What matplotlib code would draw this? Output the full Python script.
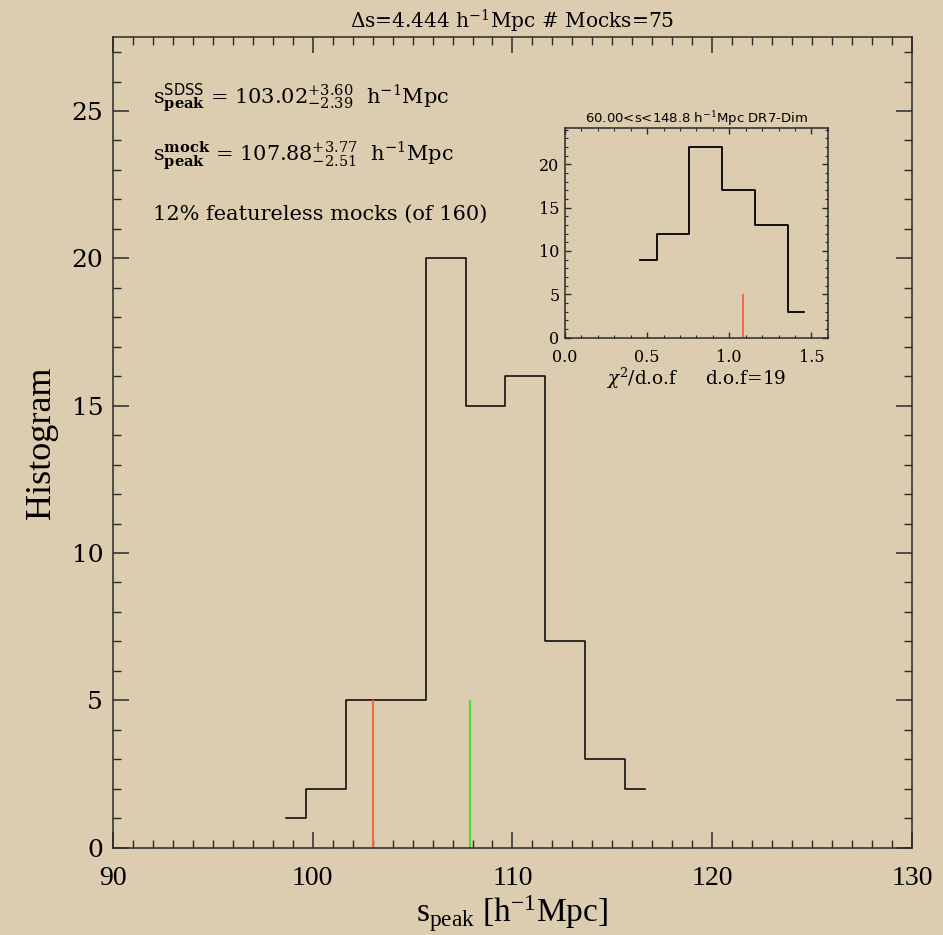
import numpy as np
import matplotlib.pyplot as plt
from matplotlib.ticker import MultipleLocator

plt.rcParams['font.family'] = ['DejaVu Serif']
plt.rcParams['mathtext.fontset'] = 'dejavuserif'

# ----------[data]----------
# main histogram of s_peak (bin centres, counts)
s_centers = [98.65, 100.65, 102.65, 104.65, 106.65, 108.65, 110.65, 112.65, 114.65, 116.65]
s_counts = [1, 2, 5, 5, 20, 15, 16, 7, 3, 2]
s_sdss = 103.02
s_mock = 107.88

# inset histogram of chi2/dof
chi_centers = [0.457, 0.657, 0.857, 1.057, 1.257, 1.457]
chi_counts = [9, 12, 22, 17, 13, 3]
chi_sdss = 1.083

bg = '#dccdb0'
ink = '#2a2a2a'

fig = plt.figure(figsize=(9.43, 9.35), dpi=100, facecolor=bg)

# ----------[main panel]----------
ax = fig.add_axes([0.1198, 0.0934, 0.8473, 0.8667])
ax.set_facecolor(bg)
ax.plot(s_centers, s_counts, drawstyle='steps-mid', color='black', lw=1.1)
ax.vlines(s_sdss, 0, 5, color='#f26a4a', lw=1.6)
ax.vlines(s_mock, 0, 5, color='#4ddc3a', lw=1.6)

ax.set_xlim(90, 130)
ax.set_ylim(0, 27.5)
ax.xaxis.set_major_locator(MultipleLocator(10))
ax.xaxis.set_minor_locator(MultipleLocator(1))
ax.yaxis.set_major_locator(MultipleLocator(5))
ax.yaxis.set_minor_locator(MultipleLocator(1))
ax.tick_params(which='both', direction='in', top=True, right=True, color=ink)
ax.tick_params(which='major', length=11.5, width=1.1)
ax.tick_params(which='minor', length=5.8, width=1.0)
ax.tick_params(axis='x', which='major', pad=13, labelsize=20, labelfontfamily='Liberation Serif')
ax.tick_params(axis='y', which='major', pad=7, labelsize=18)
for sp in ax.spines.values():
    sp.set_linewidth(1.1)
    sp.set_color(ink)

ax.set_title(r'$\Delta$s=4.444 h$^{-1}$Mpc # Mocks=75', fontsize=14.5, pad=6)
ax.set_xlabel(r'$\mathregular{s_{peak}}$ $\mathregular{[h^{-1}Mpc]}$', fontsize=24,
              family='Liberation Serif', labelpad=2)
ax.set_ylabel('Histogram', fontsize=26, family='Liberation Serif', labelpad=10)

ax.text(0.050, 0.9186, r'$\mathrm{s}^{\mathsf{SDSS}}_{\mathbf{peak}}$ = 103.02$^{+3.60}_{-2.39}$  h$^{-1}$Mpc',
        transform=ax.transAxes, fontsize=15, va='baseline')
ax.text(0.050, 0.8465, r'$\mathrm{s}^{\mathbf{mock}}_{\mathbf{peak}}$ = 107.88$^{+3.77}_{-2.51}$  h$^{-1}$Mpc',
        transform=ax.transAxes, fontsize=15, va='baseline')
ax.text(0.050, 0.7746, '12% featureless mocks (of 160)',
        transform=ax.transAxes, fontsize=15, va='baseline')

# ----------[inset panel]----------
ins = fig.add_axes([0.5992, 0.6390, 0.2786, 0.2241])
ins.set_facecolor(bg)
ins.plot(chi_centers, chi_counts, drawstyle='steps-mid', color='black', lw=1.3)
ins.vlines(chi_sdss, 0, 5, color='#f26a4a', lw=1.4)
ins.set_xlim(0, 1.6)
ins.set_ylim(0, 24.2)
ins.xaxis.set_major_locator(MultipleLocator(0.5))
ins.xaxis.set_minor_locator(MultipleLocator(0.1))
ins.yaxis.set_major_locator(MultipleLocator(5))
ins.yaxis.set_minor_locator(MultipleLocator(1))
ins.xaxis.set_major_formatter(plt.FormatStrFormatter('%.1f'))
ins.tick_params(which='both', direction='in', top=True, right=True, color=ink, labelsize=11.5)
ins.tick_params(which='major', length=4.5, width=1.0)
ins.tick_params(which='minor', length=2.2, width=0.8)
ins.tick_params(axis='x', pad=8)
ins.tick_params(axis='y', pad=4)
for sp in ins.spines.values():
    sp.set_linewidth(1.1)
    sp.set_color(ink)
ins.set_title(r'60.00<s<148.8 h$^{-1}$Mpc DR7-Dim', fontsize=9.5, family='DejaVu Sans', pad=3)
ins.set_xlabel(r'$\chi^2$/d.o.f     d.o.f=19', fontsize=13.3, labelpad=0)

fig.savefig('out.png', dpi=100, facecolor=bg)
